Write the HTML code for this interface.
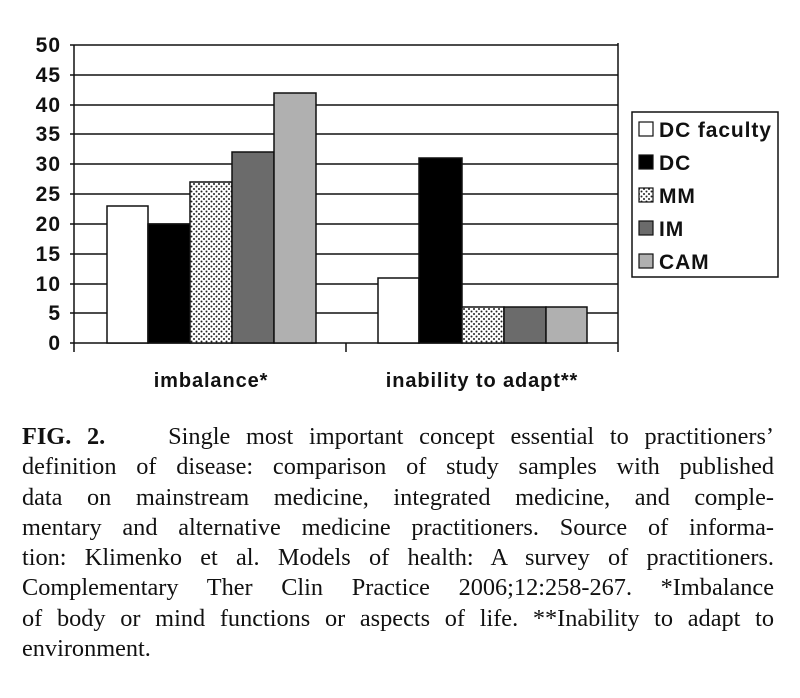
<!DOCTYPE html>
<html><head><meta charset="utf-8"><style>
body{margin:0;background:#fff;width:800px;height:698px;overflow:hidden;position:relative}
.cap{position:absolute;left:22px;width:752px;font-family:"Liberation Serif",serif;font-size:24.3px;color:#111}
.cap div{height:30.3px;line-height:30.3px;text-align:justify;text-align-last:justify;white-space:nowrap}
.cap div.last{text-align-last:left}
</style></head><body>
<svg width="800" height="400" style="position:absolute;left:0;top:0" font-family="Liberation Sans, sans-serif" font-weight="bold">
<defs><pattern id="dots" width="5" height="5" patternUnits="userSpaceOnUse"><rect width="5" height="5" fill="#fff"/><circle cx="1.5" cy="1.5" r="1" fill="#222"/><circle cx="4" cy="4" r="1" fill="#222"/></pattern></defs>
<g stroke="#111" stroke-width="1.5">
<line x1="70" y1="45" x2="618" y2="45"/><line x1="70" y1="75" x2="618" y2="75"/><line x1="70" y1="105" x2="618" y2="105"/><line x1="70" y1="134" x2="618" y2="134"/><line x1="70" y1="164" x2="618" y2="164"/><line x1="70" y1="194" x2="618" y2="194"/><line x1="70" y1="224" x2="618" y2="224"/><line x1="70" y1="254" x2="618" y2="254"/><line x1="70" y1="284" x2="618" y2="284"/><line x1="70" y1="313" x2="618" y2="313"/><line x1="70" y1="343" x2="618" y2="343"/>
<line x1="74" y1="45" x2="74" y2="352"/><line x1="618" y1="43" x2="618" y2="352"/><line x1="346" y1="343" x2="346" y2="352"/>
</g>
<g stroke="#111" stroke-width="1.5">
<rect x="107" y="206" width="41" height="137" fill="#fff"/>
<rect x="148" y="224" width="42" height="119" fill="#000"/>
<rect x="190" y="182" width="42" height="161" fill="url(#dots)"/>
<rect x="232" y="152" width="42" height="191" fill="#6b6b6b"/>
<rect x="274" y="93" width="42" height="250" fill="#b0b0b0"/>
<rect x="378" y="278" width="41" height="65" fill="#fff"/>
<rect x="419" y="158" width="43" height="185" fill="#000"/>
<rect x="462" y="307" width="42" height="36" fill="url(#dots)"/>
<rect x="504" y="307" width="42" height="36" fill="#6b6b6b"/>
<rect x="546" y="307" width="41" height="36" fill="#b0b0b0"/>
</g>
<g font-size="21" letter-spacing="1" text-anchor="end" fill="#111">
<text x="61" y="52">50</text><text x="61" y="82">45</text><text x="61" y="112">40</text><text x="61" y="141">35</text><text x="61" y="171">30</text><text x="61" y="201">25</text><text x="61" y="231">20</text><text x="61" y="261">15</text><text x="61" y="291">10</text><text x="61" y="320">5</text><text x="61" y="350">0</text>
</g>
<g font-size="20" letter-spacing="0.9" text-anchor="middle" fill="#111"><text x="211" y="387">imbalance*</text><text x="482" y="387">inability to adapt**</text></g>
<rect x="632" y="112" width="146" height="165" fill="#fff" stroke="#111" stroke-width="1.5"/>
<g stroke="#111" stroke-width="1.2">
<rect x="639" y="122" width="14" height="14" fill="#fff"/>
<rect x="639" y="155" width="14" height="14" fill="#000"/>
<rect x="639" y="188" width="14" height="14" fill="url(#dots)"/>
<rect x="639" y="221" width="14" height="14" fill="#6b6b6b"/>
<rect x="639" y="254" width="14" height="14" fill="#b0b0b0"/>
</g>
<g font-size="21" letter-spacing="0.9" fill="#111"><text x="659" y="137">DC faculty</text><text x="659" y="170">DC</text><text x="659" y="203">MM</text><text x="659" y="236">IM</text><text x="659" y="269">CAM</text></g>
</svg>
<div class="cap" style="top:422px">
<div><b>FIG. 2.</b>&nbsp;&nbsp;&nbsp;&nbsp;Single most important concept essential to practitioners’</div>
<div>definition of disease: comparison of study samples with published</div>
<div>data on mainstream medicine, integrated medicine, and comple-</div>
<div>mentary and alternative medicine practitioners. Source of informa-</div>
<div>tion: Klimenko et al. Models of health: A survey of practitioners.</div>
<div>Complementary Ther Clin Practice 2006;12:258-267. *Imbalance</div>
<div>of body or mind functions or aspects of life. **Inability to adapt to</div>
<div class="last">environment.</div>
</div>
</body></html>
